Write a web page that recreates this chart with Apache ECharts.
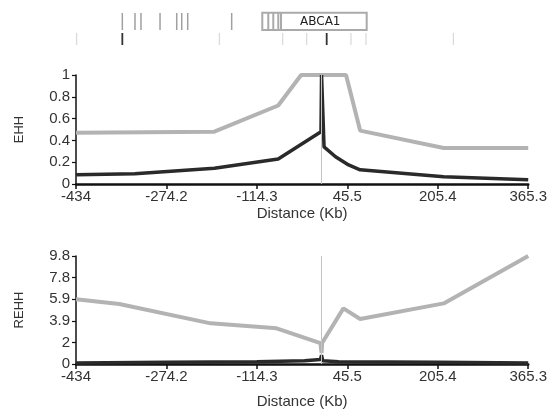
<!DOCTYPE html>
<html>
<head>
<meta charset="utf-8">
<script src="https://cdn.jsdelivr.net/npm/echarts@6/dist/echarts.min.js"></script>
<style>
  html, body { margin: 0; padding: 0; background: #fff; }
  #main { width: 550px; height: 414px; }
</style>
</head>
<body>
<div id="main"></div>
<script>
// distance axis (Kb)
var xMin = -434;
var xStep = 159.86;
var xTickLabels = ['-434', '-274.2', '-114.3', '45.5', '205.4', '365.3'];
var rehhTickStep = 1.96;

// EHH, light series
var ehhDistA = [-434, -189.5, -76.6, -36.1, 43.3, 68.2, 215.9, 365.3];
var ehhA = [0.47, 0.48, 0.72, 1, 1, 0.49, 0.33, 0.33];
// EHH, dark series
var ehhDistB = [-434, -330, -189.5, -76.6, -1, 0, 4.4, 24.7, 47.8, 68.2, 215.9, 365.3];
var ehhB = [0.085, 0.095, 0.145, 0.23, 0.48, 1, 0.34, 0.25, 0.175, 0.13, 0.067, 0.04];

// REHH, light series
var rehhDistA = [-434, -357.5, -196, -79.5, -2, 0, 1, 38.6, 68.2, 215.9, 365.3];
var rehhA = [5.87, 5.45, 3.69, 3.24, 1.9, 1.0, 1.9, 5.05, 4.08, 5.5, 9.8];
// REHH, dark series
var rehhDistB = [-434, -274, -114.3, -30, -2, 0, 2, 30, 205.4, 365.3];
var rehhB = [0.1, 0.15, 0.2, 0.3, 0.4, 0.8, 0.3, 0.2, 0.15, 0.1];

// gene track
var snpRow1 = [-353.5, -331.5, -321.1, -288, -259, -250.3, -239.9, -163.5];
var snpRow2 = [-432.8, -185, -74.8, -33.1, 43.8, 69.9, 221.6];
var snpRow2Dark = [-353.5, 1.6];
var geneName = 'ABCA1';
var geneStart = -110.3;
var geneEnd = 71.1;
var exonLines = [-99.9, -91.2, -82.5, -77.8];

function pairs(xs, ys) {
  return xs.map(function (x, i) { return [x - xMin, ys[i]]; });
}
function shifted(xs) {
  return xs.map(function (x) { return [x - xMin]; });
}

var myChart = echarts.init(document.getElementById('main'));
var font = 'Liberation Sans, Arial, sans-serif';

function xAxisFor(idx, show) {
  return {
    type: 'value', gridIndex: idx, min: 0, max: xStep * 5, interval: xStep,
    show: show,
    name: 'Distance (Kb)', nameLocation: 'middle', nameGap: idx === 1 ? 22 : 30,
    nameTextStyle: { fontSize: 15, color: '#333', fontFamily: font },
    axisLine: { show: true, lineStyle: { color: '#111', width: 2.5 } },
    axisTick: { show: true, length: 5, lineStyle: { color: '#111', width: 1.5 } },
    axisLabel: {
      fontSize: 15, color: '#333', fontFamily: font, margin: 5,
      showMinLabel: true, showMaxLabel: true,
      formatter: function (v) { return xTickLabels[Math.round(v / xStep)]; }
    },
    splitLine: { show: false }
  };
}

function yAxisFor(idx, name, max, interval, fmt) {
  return {
    type: 'value', gridIndex: idx, min: 0, max: max, interval: interval,
    name: name, nameLocation: 'middle', nameGap: 50, nameRotate: 90,
    nameTextStyle: { fontSize: 13, color: '#333', fontFamily: font },
    axisLine: { show: true, lineStyle: { color: '#111', width: 1.5 } },
    axisTick: { show: true, length: 4, lineStyle: { color: '#111', width: 1.2 } },
    axisLabel: { fontSize: 15, color: '#333', fontFamily: font, margin: 6, formatter: fmt },
    splitLine: { show: false }
  };
}

var lightStyle = { color: '#b3b3b3', width: 4 };
var darkStyle = { color: '#2a2a2a', width: 3.5 };
var coreLine = {
  silent: true, symbol: 'none', label: { show: false },
  lineStyle: { color: '#c4c4c4', width: 1, type: 'solid' },
  data: [{ xAxis: 0 - xMin }]
};

function tickRenderer(y0, y1, color, width) {
  return function (params, api) {
    var p0 = api.coord([api.value(0), y0]);
    var p1 = api.coord([api.value(0), y1]);
    return {
      type: 'line',
      shape: { x1: p0[0], y1: p0[1], x2: p1[0], y2: p1[1] },
      style: { stroke: color, lineWidth: width }
    };
  };
}

myChart.setOption({
  animation: false,
  backgroundColor: '#fff',
  grid: [
    { left: 76, right: 14, top: 10, height: 40 },
    { left: 76, right: 14, top: 75, height: 109 },
    { left: 76, right: 14, top: 256, height: 108 }
  ],
  xAxis: [xAxisFor(0, false), xAxisFor(1, true), xAxisFor(2, true)],
  yAxis: [
    { type: 'value', gridIndex: 0, min: 0, max: 40, inverse: true, show: false },
    yAxisFor(1, 'EHH', 1, 0.2),
    yAxisFor(2, 'REHH', rehhTickStep * 5, rehhTickStep, function (v) {
      return String(parseFloat(v.toFixed(1)));
    })
  ],
  series: [
    {
      type: 'custom', xAxisIndex: 0, yAxisIndex: 0, silent: true,
      renderItem: tickRenderer(3, 20, '#a0a0a0', 1.5),
      data: shifted(snpRow1)
    },
    {
      type: 'custom', xAxisIndex: 0, yAxisIndex: 0, silent: true,
      renderItem: tickRenderer(23, 35, '#d0d0d0', 1),
      data: shifted(snpRow2)
    },
    {
      type: 'custom', xAxisIndex: 0, yAxisIndex: 0, silent: true,
      renderItem: tickRenderer(23, 35, '#333', 1.8),
      data: shifted(snpRow2Dark)
    },
    {
      type: 'custom', xAxisIndex: 0, yAxisIndex: 0, silent: true,
      renderItem: function (params, api) {
        var a = api.coord([api.value(0), 2.7]);
        var b = api.coord([api.value(1), 20]);
        var kids = [{
          type: 'rect',
          shape: { x: a[0], y: a[1], width: b[0] - a[0], height: b[1] - a[1] },
          style: { fill: '#fff', stroke: '#aaa', lineWidth: 2 }
        }];
        exonLines.forEach(function (e) {
          var px = api.coord([e - xMin, 0])[0];
          kids.push({
            type: 'line',
            shape: { x1: px, y1: a[1], x2: px, y2: b[1] },
            style: { stroke: '#aaa', lineWidth: 2 }
          });
        });
        var mid = api.coord([(api.value(0) + api.value(1)) / 2 + 10, 11.5]);
        kids.push({
          type: 'text',
          style: {
            text: geneName, x: mid[0], y: mid[1], align: 'center', verticalAlign: 'middle',
            fontSize: 12, fontFamily: 'DejaVu Sans, sans-serif', fill: '#222'
          }
        });
        return { type: 'group', children: kids };
      },
      data: [[geneStart - xMin, geneEnd - xMin]]
    },
    {
      type: 'line', xAxisIndex: 1, yAxisIndex: 1, showSymbol: false, silent: true,
      lineStyle: lightStyle, data: pairs(ehhDistA, ehhA), markLine: coreLine, z: 2
    },
    {
      type: 'line', xAxisIndex: 1, yAxisIndex: 1, showSymbol: false, silent: true,
      lineStyle: darkStyle, data: pairs(ehhDistB, ehhB), z: 3
    },
    {
      type: 'line', xAxisIndex: 2, yAxisIndex: 2, showSymbol: false, silent: true,
      lineStyle: lightStyle, data: pairs(rehhDistA, rehhA), markLine: coreLine, z: 2
    },
    {
      type: 'line', xAxisIndex: 2, yAxisIndex: 2, showSymbol: false, silent: true,
      lineStyle: darkStyle, data: pairs(rehhDistB, rehhB), z: 3
    }
  ]
});
</script>
</body>
</html>
